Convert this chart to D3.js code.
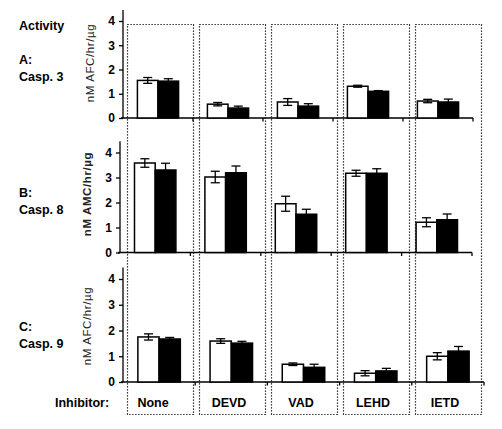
<!DOCTYPE html>
<html><head><meta charset="utf-8">
<script src="https://cdn.jsdelivr.net/npm/d3@7"></script>
<style>body{margin:0;background:#fff}svg{display:block}text{font-family:"Liberation Sans",Arial,sans-serif}</style>
</head><body>
<script>
const inhibitors = ["None","DEVD","VAD","LEHD","IETD"];
const yTicks = [0,1,2,3,4];
const panelNames = ["A:","B:","C:"];
const caspases = ["Casp. 3","Casp. 8","Casp. 9"];
const yLabels = ["nM AFC/hr/µg","nM AMC/hr/µg","nM AFC/hr/µg"];
const whiteA = [1.55,0.57,0.66,1.31,0.70];
const whiteAErr = [0.12,0.07,0.14,0.04,0.07];
const blackA = [1.52,0.41,0.49,1.10,0.66];
const blackAErr = [0.10,0.08,0.10,0.03,0.12];
const whiteB = [3.58,3.02,1.95,3.17,1.21];
const whiteBErr = [0.17,0.23,0.30,0.12,0.18];
const blackB = [3.30,3.19,1.53,3.17,1.31];
const blackBErr = [0.27,0.27,0.20,0.18,0.23];
const whiteC = [1.75,1.59,0.69,0.34,1.00];
const whiteCErr = [0.12,0.09,0.05,0.10,0.14];
const blackC = [1.67,1.51,0.57,0.43,1.20];
const blackCErr = [0.06,0.07,0.12,0.10,0.18];

const W=502,H=429;
const svg=d3.select("body").append("svg").attr("width",W).attr("height",H);

// dotted boxes
const boxX = d3.scaleBand(inhibitors,[127,481]).paddingInner(0.0833).paddingOuter(0);
svg.append("g").selectAll("rect").data(inhibitors).join("rect")
  .attr("x",d=>boxX(d)+0.5).attr("y",24.5).attr("width",boxX.bandwidth()).attr("height",390)
  .attr("fill","none").attr("stroke","#000").attr("stroke-width",1.2).attr("stroke-dasharray","1.2,1.8");

svg.append("text").attr("x",19).attr("y",30).attr("font-size",12.5).attr("font-weight","bold").text("Activity");
svg.append("text").attr("x",55).attr("y",407).attr("font-size",12.5).attr("font-weight","bold").text("Inhibitor:");
svg.append("g").selectAll("text").data(inhibitors).join("text")
  .attr("x",d=>boxX(d)+boxX.bandwidth()/2+(d==="None"?-7:-3)).attr("y",407).attr("text-anchor","middle")
  .attr("font-size",12.5).attr("font-weight","bold").text(d=>d);

const panels = [
  {w:whiteA,we:whiteAErr,b:blackA,be:blackAErr,x0:123,x1:473,y0:118,y4:21,labX:94,labY:63,ty:60,bold:false},
  {w:whiteB,we:whiteBErr,b:blackB,be:blackBErr,x0:120,x1:472,y0:252.5,y4:152.5,labX:91,labY:194,ty:193,bold:true},
  {w:whiteC,we:whiteCErr,b:blackC,be:blackCErr,x0:123,x1:484,y0:382,y4:279,labX:91,labY:326,ty:327,bold:false}
];

panels.forEach((p,i)=>{
  const g=svg.append("g");
  const y=d3.scaleLinear([0,4],[p.y0,p.y4]);
  const x=d3.scaleBand(inhibitors,[p.x0,p.x1]);
  const xs=d3.scaleBand(["w","b"],[0,x.bandwidth()]).paddingOuter(0.7);
  const ya=g.append("g").attr("transform",`translate(${p.x0},0)`)
    .call(d3.axisLeft(y).tickValues(yTicks).tickFormat(d3.format("d")).tickSize(4).tickSizeOuter(0).tickPadding(4));
  ya.select(".domain").attr("d",`M0,${y(4.45)}V${y(0)}`).attr("stroke-width",1.3);
  ya.selectAll(".tick line").attr("stroke-width",1.3);
  ya.selectAll(".tick text").attr("font-size",12).attr("font-weight","bold").attr("font-family","'Liberation Sans Narrow','Liberation Sans',Arial").attr("fill","#000");
  const xa=g.append("g").attr("transform",`translate(0,${p.y0})`)
    .call(d3.axisBottom(x).tickValues([]).tickSizeOuter(0));
  xa.select(".domain").attr("d",`M${p.x0-2},0H${p.x1}`).attr("stroke-width",1.5);
  g.append("g").selectAll("line").data(inhibitors).join("line")
    .attr("x1",d=>x(d)+x.bandwidth()).attr("x2",d=>x(d)+x.bandwidth())
    .attr("y1",p.y0).attr("y2",p.y0+3.5).attr("stroke","#000").attr("stroke-width",1.3);
  const series=[{k:"w",v:p.w,e:p.we,fill:"#fff"},{k:"b",v:p.b,e:p.be,fill:"#000"}];
  series.forEach(s=>{
    g.append("g").selectAll("rect").data(inhibitors).join("rect")
      .attr("x",(d)=>x(d)+xs(s.k)).attr("width",xs.bandwidth())
      .attr("y",(d,j)=>y(s.v[j])).attr("height",(d,j)=>y(0)-y(s.v[j]))
      .attr("fill",s.fill).attr("stroke","#000").attr("stroke-width",1.5);
    const eg=g.append("g").attr("stroke","#000").attr("stroke-width",1.3);
    inhibitors.forEach((d,j)=>{
      const cx=x(d)+xs(s.k)+xs.bandwidth()/2;
      const hi=y(s.v[j]+s.e[j]), lo=y(s.v[j]-s.e[j]);
      eg.append("line").attr("x1",cx).attr("x2",cx).attr("y1",hi).attr("y2",lo);
      eg.append("line").attr("x1",cx-4.5).attr("x2",cx+4.5).attr("y1",hi).attr("y2",hi);
      eg.append("line").attr("x1",cx-4.5).attr("x2",cx+4.5).attr("y1",lo).attr("y2",lo);
    });
  });
  g.append("text").attr("transform",`translate(${p.labX},${p.labY}) rotate(-90)`)
    .attr("text-anchor","middle").attr("font-size",11.5).attr("letter-spacing",0.6)
    .attr("font-weight",p.bold?"bold":"normal").attr("fill","#222").text(yLabels[i]);
  g.append("text").attr("x",19).attr("y",p.ty+4).attr("font-size",12.5).attr("font-weight","bold").text(panelNames[i]);
  g.append("text").attr("x",19).attr("y",p.ty+21).attr("font-size",12.5).attr("font-weight","bold").text(caspases[i]);
});
</script>
</body></html>
